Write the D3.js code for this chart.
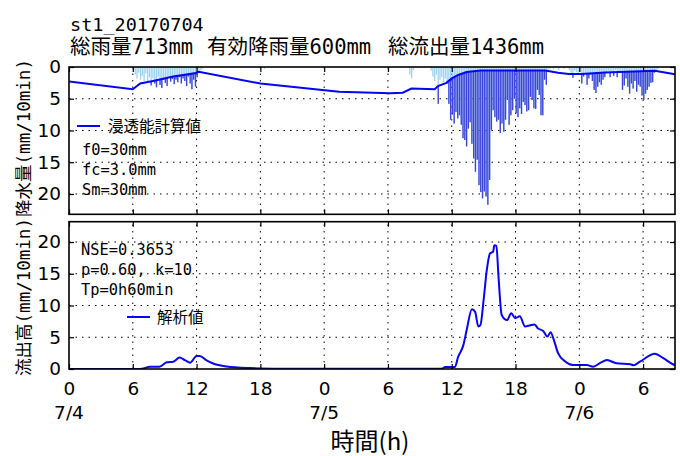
<!DOCTYPE html>
<html><head><meta charset="utf-8">
<script src="https://cdn.jsdelivr.net/npm/d3@7"></script>
<style>body{margin:0;background:#fff}</style>
</head><body><svg id="c" width="680" height="456"></svg>
<script>
// ---------- data ----------
const xTickHours = [0, 6, 12, 18, 24, 30, 36, 42, 48, 54];
const xTickLabels = ["0", "6", "12", "18", "0", "6", "12", "18", "0", "6"];
const dateTickHours = [0, 24, 48];
const dateLabels = ["7/4", "7/5", "7/6"];
const yTicks = [0, 5, 10, 15, 20];

// 10-minute rainfall (mm/10min), each event starts at the given hour
const rainAStart = 6.0;
const rainA = [0.5,1.2,1.8,0.9,2.0,1.4,2.2,1.0,2.4,1.6,2.9,1.8,2.6,3.2,1.5,2.8,3.3,2.0,2.5,3.0,
  1.7,2.3,1.9,2.7,2.0,2.4,1.6,2.6,1.8,2.2,3.0,1.5,2.6,3.5,2.0,3.1,1.6,0.9,0.5,0.3];
const rainCStart = 34.0;
const rainC = [0.6,1.5,2.2,1.2,5.8,2.0,1.6,2.4,1.8,2.6,5.8,8.3,7.5,8.9,7.1,8.1,7.6,9.1,11.2,11.5,
  12.5,9.7,8.7,12.1,14.4,16.5,14.6,18.6,19.7,20.7,19.6,20.4,21.7,17.8,9.9,6.8,7.9,8.6,8.3,10.4,
  8.9,10.2,8.3,5.2,9.1,7.6,6.8,5.0,7.3,7.9,6.5,7.4,5.5,6.0,7.0,6.8,4.7,5.2,6.5,6.6,
  3.6,4.4,7.6,7.6,2.0,2.8,0.4,0.3];
const rainDStart = 47.0;
const rainD = [0.5,1.0,1.7,0.6,0.8,1.2,0.7,2.6,1.5,0.9,2.8,1.8,1.2,2.2,3.6,4.1,3.1,2.4,2.8,2.0,
  1.6,0.8,0.6,1.6,0.7,1.4,0.5,1.6,0.9,0.6,3.6,2.9,1.8,3.1,4.2,2.6,3.4,2.2,3.9,2.8,
  3.1,4.5,5.2,4.2,3.6,3.1,2.5,2.4,0.9,0.5,0.3];
const rainSparse = [[18.33,0.3],[30.0,0.7],[32.0,1.2],[32.17,1.8],[32.33,0.5],[45.5,0.4],[46.0,0.5],[46.5,0.3]];

// infiltration capacity curve [hour, mm/10min]
const infilHours = [0,6.0,6.7,7.9,9.8,11.8,12.2,18,25.4,30.2,31.4,32.2,34.4,34.7,35.5,36.0,36.6,37.4,38.7,44.8,46.0,47.0,48.2,50.4,55.1,57];
const infilValues = [2.3,3.5,2.6,2.2,1.5,1.0,0.75,2.6,3.9,4.15,4.05,3.4,3.5,3.0,2.5,1.8,1.25,0.8,0.55,0.55,0.9,1.1,1.1,0.85,0.6,1.15];

// computed runoff [hour, mm/10min]
const flowHours = [0,6.5,7.0,7.6,8.5,9.2,9.8,10.4,10.9,11.4,12.0,12.3,12.9,13.5,14.8,17,20,24,35.0,35.4,36.3,36.6,37.1,37.4,37.9,38.2,38.5,38.7,39.0,39.3,39.6,39.9,40.0,40.2,40.4,40.7,41.2,41.6,41.96,42.4,42.9,43.4,43.8,44.1,44.6,45.0,45.3,45.6,46.0,46.7,47.4,48.7,49.3,50.0,50.6,51.5,52.8,53.1,53.7,55.1,55.9,56.8,57];
const flowValues = [0,0,0.1,0.35,0.35,1.05,1.15,1.8,1.4,1.0,2.05,2.05,1.4,0.9,0.4,0.15,0.05,0.02,0.02,0.3,0.3,1.9,3.8,6.1,9.4,9.0,6.7,6.9,10.9,15.6,18.2,18.5,19.5,19.4,14.5,8.5,7.7,8.8,8.0,8.3,6.7,6.9,7.0,6.4,6.0,5.1,5.8,4.6,2.5,1.15,0.63,0.63,0.35,1.0,1.4,0.9,0.75,0.6,1.15,2.4,1.7,0.75,0.6];

const titleLine1 = "st1_20170704";
const titleParts = ["総雨量713mm", "有効降雨量600mm", "総流出量1436mm"];
const paramTop = ["f0=30mm", "fc=3.0mm", "Sm=30mm"];
const paramBottom = ["NSE=0.3653", "p=0.60, k=10", "Tp=0h60min"];

// ---------- drawing ----------
const svg = d3.select("#c");
const MONO = "'DejaVu Sans Mono','Noto Sans CJK JP',monospace";
const CJK = "'Noto Sans CJK JP','DejaVu Sans',sans-serif";
const SANS = "'DejaVu Sans',sans-serif";
const BLUE = "#0505f0";

const x = d3.scaleLinear().domain([0, 57]).range([69, 675]);
const yR = d3.scaleLinear().domain([0, 23.2]).range([67, 214.3]);
const yF = d3.scaleLinear().domain([0, 23.2]).range([369, 221.7]);

const rain = [];
[[rainAStart, rainA], [rainCStart, rainC], [rainDStart, rainD]].forEach(([s, arr]) =>
  arr.forEach((v, i) => rain.push({t: s + i / 6, v})));
rainSparse.forEach(([t, v]) => rain.push({t, v}));
const infil = infilHours.map((h, i) => ({t: h, v: infilValues[i]}));
const flow = flowHours.map((h, i) => ({t: h, v: flowValues[i]}));

const defs = svg.append("defs");
defs.append("clipPath").attr("id", "clipTop").append("rect")
  .attr("x", x(0)).attr("y", yR(0)).attr("width", x(57) - x(0)).attr("height", yR(23.2) - yR(0));
defs.append("clipPath").attr("id", "clipBot").append("rect")
  .attr("x", x(0)).attr("y", yF(23.2)).attr("width", x(57) - x(0)).attr("height", yF(0) - yF(23.2));
defs.append("clipPath").attr("id", "clipInfil").append("path")
  .attr("d", d3.area().x(d => x(d.t)).y0(yR(23.2)).y1(d => yR(d.v))(infil));

function grid(g, y) {
  const [y0, y1] = y.range();
  g.selectAll(".vg").data(xTickHours.slice(1)).enter().append("line")
    .attr("x1", d => x(d)).attr("x2", d => x(d)).attr("y1", y0).attr("y2", y1)
    .attr("stroke", "#000").attr("stroke-width", 1).attr("stroke-dasharray", "1.5,5");
  g.selectAll(".hg").data(yTicks.slice(1)).enter().append("line")
    .attr("x1", x(0)).attr("x2", x(57)).attr("y1", d => y(d)).attr("y2", d => y(d))
    .attr("stroke", "#000").attr("stroke-width", 1).attr("stroke-dasharray", "1.5,5");
}

function frame(y, showX) {
  const [ya, yb] = y.range();
  const top = Math.min(ya, yb), bot = Math.max(ya, yb);
  const ax = svg.append("g");
  const left = ax.append("g").attr("transform", `translate(${x(0)},0)`)
    .call(d3.axisLeft(y).tickValues(yTicks).tickSizeInner(-5).tickSizeOuter(0).tickPadding(8).tickFormat(d3.format("d")));
  left.selectAll("text").attr("font-family", SANS).attr("font-size", 18.5).attr("fill", "#000");
  ax.append("g").attr("transform", `translate(${x(57)},0)`)
    .call(d3.axisRight(y).tickValues(yTicks).tickSizeInner(-5).tickSizeOuter(0).tickFormat(""));
  const b = ax.append("g").attr("transform", `translate(0,${bot})`)
    .call(d3.axisBottom(x).tickValues(xTickHours).tickSizeInner(-5).tickSizeOuter(0).tickPadding(13)
      .tickFormat((d, i) => showX ? xTickLabels[i] : ""));
  b.selectAll("text").attr("font-family", SANS).attr("font-size", 18.5).attr("fill", "#000");
  ax.append("g").attr("transform", `translate(0,${top})`)
    .call(d3.axisTop(x).tickValues(xTickHours).tickSizeInner(-5).tickSizeOuter(0).tickFormat(""));
  ax.selectAll(".domain").remove();
  ax.selectAll(".tick line").attr("stroke", "#000").attr("stroke-width", 1.2);
  ax.append("rect").attr("x", x(0)).attr("y", top).attr("width", x(57) - x(0)).attr("height", bot - top)
    .attr("fill", "none").attr("stroke", "#000").attr("stroke-width", 1.6);
}

// ---- top panel ----
const gT = svg.append("g");
grid(gT, yR);
const bw = 1.35;
const pT = gT.append("g").attr("clip-path", "url(#clipTop)");
pT.append("g").selectAll("rect").data(rain).enter().append("rect")
  .attr("x", d => x(d.t)).attr("width", bw).attr("y", yR(0)).attr("height", d => yR(d.v) - yR(0))
  .attr("fill", "#9fd4f2");
pT.append("g").attr("clip-path", "url(#clipInfil)").selectAll("rect").data(rain).enter().append("rect")
  .attr("x", d => x(d.t)).attr("width", bw).attr("y", yR(0)).attr("height", d => yR(d.v) - yR(0))
  .attr("fill", "#2626d4").attr("opacity", 0.82);
pT.append("path").datum(infil)
  .attr("d", d3.line().x(d => x(d.t)).y(d => yR(d.v)))
  .attr("fill", "none").attr("stroke", BLUE).attr("stroke-width", 2);
frame(yR, false);

// ---- bottom panel ----
const gB = svg.append("g");
grid(gB, yF);
gB.append("g").attr("clip-path", "url(#clipBot)").append("path").datum(flow)
  .attr("d", d3.line().curve(d3.curveMonotoneX).x(d => x(d.t)).y(d => yF(d.v)))
  .attr("fill", "none").attr("stroke", BLUE).attr("stroke-width", 2);
frame(yF, true);

// date labels
svg.append("g").selectAll("text").data(dateTickHours).enter().append("text")
  .attr("x", d => x(d)).attr("y", 418.5).attr("text-anchor", "middle")
  .attr("font-family", SANS).attr("font-size", 18.5).text((d, i) => dateLabels[i]);

// titles
svg.append("text").attr("x", 70).attr("y", 31).attr("font-family", MONO).attr("font-size", 18.5).text(titleLine1);
const titleX = [70, 207, 388];
svg.append("g").selectAll("text").data(titleParts).enter().append("text")
  .attr("x", (d, i) => titleX[i]).attr("y", 54).attr("font-family", MONO).attr("font-size", 20.5).text(d => d);

// axis labels
svg.append("text").attr("transform", "translate(29.5,138) rotate(-90)").attr("text-anchor", "middle")
  .attr("font-family", MONO).attr("font-size", 17.5).text("降水量(mm/10min)");
svg.append("text").attr("transform", "translate(29.5,297) rotate(-90)").attr("text-anchor", "middle")
  .attr("font-family", MONO).attr("font-size", 17.5).text("流出高(mm/10min)");
svg.append("text").attr("x", 370).attr("y", 450).attr("text-anchor", "middle")
  .attr("font-family", CJK).attr("font-size", 24).text("時間(h)");

// legends
svg.append("line").attr("x1", 77).attr("x2", 100).attr("y1", 126).attr("y2", 126).attr("stroke", BLUE).attr("stroke-width", 2);
svg.append("text").attr("x", 108).attr("y", 132).attr("font-family", CJK).attr("font-size", 15.5).text("浸透能計算値");
svg.append("line").attr("x1", 127).attr("x2", 150).attr("y1", 317).attr("y2", 317).attr("stroke", BLUE).attr("stroke-width", 2);
svg.append("text").attr("x", 157).attr("y", 323).attr("font-family", CJK).attr("font-size", 15.5).text("解析値");

// parameter text
svg.append("g").selectAll("text").data(paramTop).enter().append("text")
  .attr("x", 82).attr("y", (d, i) => 155 + i * 20).attr("font-family", MONO).attr("font-size", 16.5)
  .attr("textLength", d => d.length * 9.25).attr("lengthAdjust", "spacingAndGlyphs").text(d => d);
svg.append("g").selectAll("text").data(paramBottom).enter().append("text")
  .attr("x", 81).attr("y", (d, i) => 255 + i * 20).attr("font-family", MONO).attr("font-size", 16.5)
  .attr("textLength", d => d.length * 9.25).attr("lengthAdjust", "spacingAndGlyphs").text(d => d);
</script>
</body></html>
